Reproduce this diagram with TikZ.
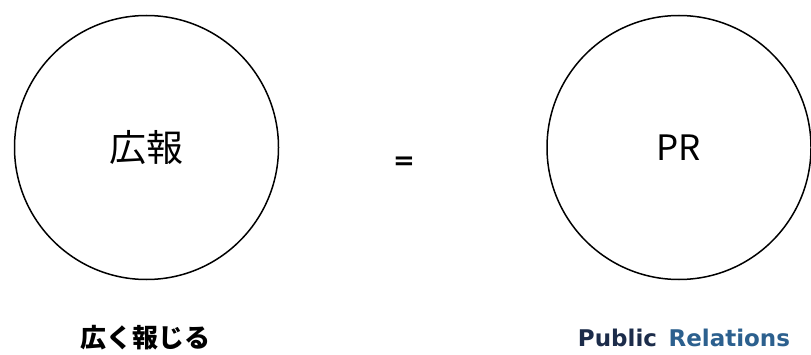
\documentclass[tikz,border=0pt]{standalone}
\usepackage{fontspec}
\usepackage{xcolor}
\usepackage{tikz}
\usetikzlibrary{positioning}
\newfontfamily\jpfont{Noto Sans CJK JP}
\newfontfamily\prfont{DejaVu Sans}
\definecolor{prnavy}{RGB}{28,44,74}
\definecolor{prblue}{RGB}{44,96,142}

\begin{document}
\begin{tikzpicture}[x=1pt, y=1pt,
  bigcircle/.style={draw, circle, line width=1.5pt, minimum size=264pt, inner sep=0pt}]

\useasboundingbox (0,0) rectangle (811,354);

% ---- Two circles with the terms ----
\node[bigcircle, font=\jpfont\fontsize{37}{40}\selectfont] (koho) at (146.5, 206.5) {広報};
\node[bigcircle, font=\jpfont\fontsize{35}{38}\selectfont] (pr) at (679, 206.5) {PR};

% ---- Equals sign between them ----
\node[font=\prfont\bfseries\fontsize{26}{28}\selectfont] (equal) at (404, 191) {=};

% ---- Captions below ----
\node[font=\jpfont\bfseries\fontsize{26}{28}\selectfont] (kohoCaption) at (145, 16) {広く報じる};
\node[font=\prfont\bfseries\fontsize{23}{25}\selectfont, text=prnavy] (prCaption) at (684, 16)
  {Public\hspace{0.5em}\textcolor{prblue}{Relations}};

\end{tikzpicture}
\end{document}
